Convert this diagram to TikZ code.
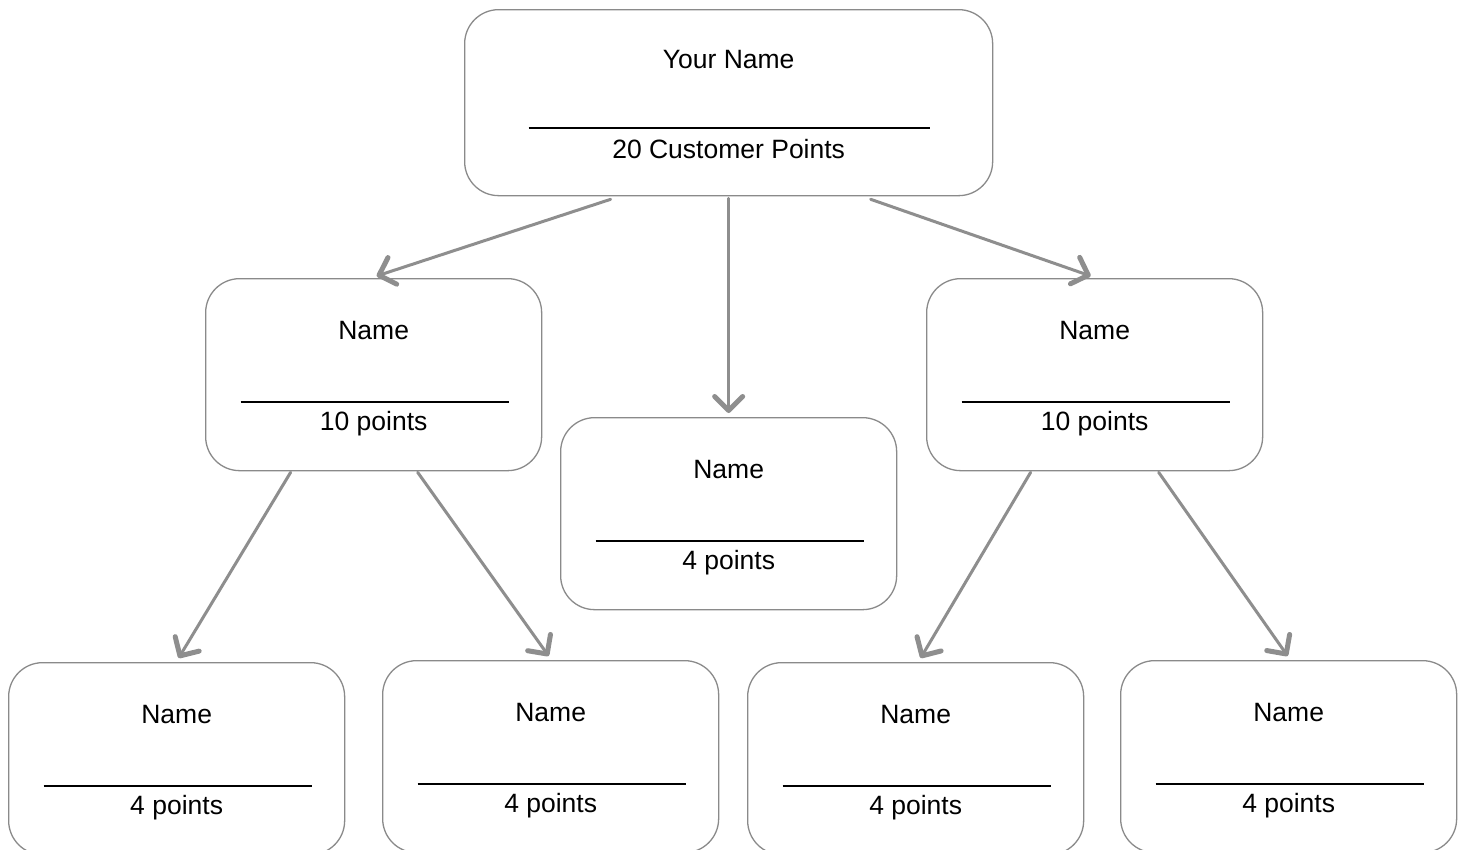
\documentclass[tikz,border=0pt]{standalone}
\usepackage{fontspec}
\setmainfont{Liberation Sans}
\usetikzlibrary{arrows.meta,calc}

\definecolor{boxgray}{HTML}{8A8A8A}
\definecolor{arrowgray}{HTML}{8E8E8E}

\tikzset{
  card/.style={draw=boxgray, line width=1.3pt, rounded corners=34pt, fill=white,
    minimum width=336pt, minimum height=192pt, anchor=north west, inner sep=0pt},
  topcard/.style={card, minimum width=528pt, minimum height=186pt},
  label/.style={anchor=base, inner sep=0pt, font=\fontsize{26.5}{30}\selectfont},
  uline/.style={black, line width=1.8pt},
  link/.style={arrowgray, line width=3pt, line cap=round,
    -{Straight Barb[length=14pt, width=28pt, line width=5pt, line cap=round, line join=round]}},
}

\begin{document}
\begin{tikzpicture}[x=1pt, y=-1pt]
  \useasboundingbox (0,0) rectangle (1463,849);
  \clip (0,0) rectangle (1463,849);
  \fill[white] (0,0) rectangle (1463,849);

  % boxes
  \node[topcard] (top) at (464,9) {};
  \node[card] (ml) at (205,278) {};
  \node[card] (mc) at (560,417) {};
  \node[card] (mr) at (926,278) {};
  \node[card] (b1) at (8,662) {};
  \node[card] (b2) at (382,660) {};
  \node[card] (b3) at (747,662) {};
  \node[card] (b4) at (1120,660) {};

  % root box text
  \node[label] (topname) at ($(top.north)+(0,59)$) {Your Name};
  \draw[uline] ($(top.north)+(-200,119)$) -- ++(401,0);
  \node[label] (toppts) at ($(top.north)+(0,149)$) {20 Customer Points};

  % middle row text
  \node[label] (mlname) at ($(ml.north)+(0,61)$) {Name};
  \draw[uline] ($(ml.north)+(-133,124)$) -- ++(268,0);
  \node[label] (mlpts) at ($(ml.north)+(0,152)$) {10 points};

  \node[label] (mcname) at ($(mc.north)+(0,61)$) {Name};
  \draw[uline] ($(mc.north)+(-133,124)$) -- ++(268,0);
  \node[label] (mcpts) at ($(mc.north)+(0,152)$) {4 points};

  \node[label] (mrname) at ($(mr.north)+(0,61)$) {Name};
  \draw[uline] ($(mr.north)+(-133,124)$) -- ++(268,0);
  \node[label] (mrpts) at ($(mr.north)+(0,152)$) {10 points};

  % bottom row text
  \foreach \b in {b1,b2,b3,b4}{
    \node[label] (\b name) at ($(\b.north)+(0,61)$) {Name};
    \draw[uline] ($(\b.north)+(-133,124)$) -- ++(268,0);
    \node[label] (\b pts) at ($(\b.north)+(0,152)$) {4 points};
  }

  % connectors
  \draw[link] ($(top.south)+(-118,3)$) -- ($(ml.north)+(3,-2)$);
  \draw[link] ($(top.south)+(0,2)$) -- ($(mc.north)+(0,-4)$);
  \draw[link] ($(top.south)+(142,3)$) -- ($(mr.north)+(-4,-2)$);
  \draw[link] ($(ml.south)+(-83,1)$) -- ($(b1.north)+(2,-4)$);
  \draw[link] ($(ml.south)+(44,1)$) -- ($(b2.north)+(-2,-4)$);
  \draw[link] ($(mr.south)+(-64,1)$) -- ($(b3.north)+(5,-4)$);
  \draw[link] ($(mr.south)+(64,1)$) -- ($(b4.north)+(-1,-4)$);
\end{tikzpicture}
\end{document}
